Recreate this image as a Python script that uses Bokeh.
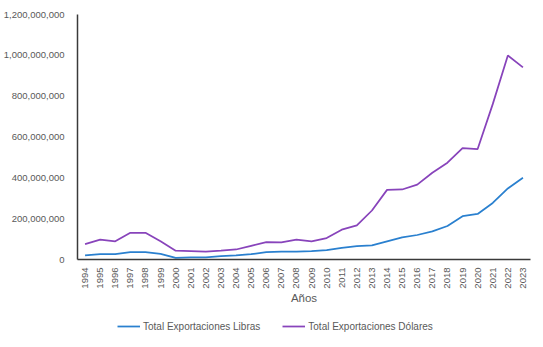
from bokeh.plotting import figure
from bokeh.layouts import column
from bokeh.models import (ColumnDataSource, Legend, LegendItem, NumeralTickFormatter,
                          FixedTicker, Range1d)
from bokeh.embed import file_html
from bokeh.resources import INLINE
import math

years = list(range(1994, 2024))
libras = [20e6, 26e6, 26e6, 36e6, 36e6, 28e6, 8e6, 11e6, 11e6, 16e6,
          20e6, 26e6, 36e6, 38e6, 39e6, 41e6, 46e6, 57e6, 65e6, 69e6,
          89e6, 108e6, 120e6, 138e6, 164e6, 212e6, 223e6, 277e6, 348e6, 400e6]
dolares = [75e6, 97e6, 89e6, 131e6, 131e6, 89e6, 43e6, 41e6, 38e6, 43e6,
           49e6, 67e6, 85e6, 84e6, 97e6, 89e6, 105e6, 146e6, 167e6, 240e6,
           341e6, 343e6, 367e6, 425e6, 474e6, 546e6, 541e6, 761e6, 999e6, 941e6]
y_ticks = [0, 200e6, 400e6, 600e6, 800e6, 1000e6, 1200e6]
series_names = ["Total Exportaciones Libras", "Total Exportaciones Dólares"]
colors = ["#2A80CF", "#8844BB"]

src = ColumnDataSource(dict(x=years, libras=libras, dolares=dolares))

FONT = "Liberation Sans"
GREY = "#595959"

p = figure(width=543, height=306, output_backend="svg", toolbar_location=None,
           x_range=Range1d(1993.5, 2023.5), y_range=Range1d(0, 1.2e9),
           min_border_left=73, min_border_right=13, min_border_top=14,
           min_border_bottom=47)
p.outline_line_color = None
p.xgrid.grid_line_color = None
p.ygrid.grid_line_color = None
p.background_fill_color = "white"
p.border_fill_color = "white"

r1 = p.line("x", "libras", source=src, line_color=colors[0], line_width=1.75)
r2 = p.line("x", "dolares", source=src, line_color=colors[1], line_width=1.75)

yax = p.yaxis[0]
yax.ticker = FixedTicker(ticks=y_ticks)
yax.formatter = NumeralTickFormatter(format="0,0")
yax.major_tick_line_color = None
yax.minor_tick_line_color = None
yax.axis_line_color = "#3a3a3a"
yax.axis_line_width = 1.5
yax.major_label_text_font = FONT
yax.major_label_text_font_size = "9.5px"
yax.major_label_text_color = GREY
yax.major_label_standoff = 7

xax = p.xaxis[0]
xax.ticker = FixedTicker(ticks=years)
xax.major_tick_line_color = None
xax.minor_tick_line_color = None
xax.axis_line_color = "#3a3a3a"
xax.axis_line_width = 1.5
xax.major_label_orientation = math.pi / 2
xax.major_label_text_font = FONT
xax.major_label_text_font_size = "9.5px"
xax.major_label_text_color = GREY
xax.major_label_standoff = 2
xax.axis_label = "Años"
xax.axis_label_text_font = FONT
xax.axis_label_text_font_size = "11.5px"
xax.axis_label_text_font_style = "normal"
xax.axis_label_text_color = GREY
xax.axis_label_standoff = 0

# legend strip below the chart
pl = figure(width=543, height=41, output_backend="svg", toolbar_location=None,
            x_range=Range1d(0, 1), y_range=Range1d(0, 1),
            min_border_left=0, min_border_right=0, min_border_top=0,
            min_border_bottom=0)
pl.axis.visible = False
pl.xgrid.grid_line_color = None
pl.ygrid.grid_line_color = None
pl.outline_line_color = None
l1 = pl.line(x=[5, 6], y=[5, 6], line_color=colors[0], line_width=1.75)
l2 = pl.line(x=[5, 6], y=[5, 6], line_color=colors[1], line_width=1.75)

legend = Legend(items=[LegendItem(label=series_names[0], renderers=[l1]),
                       LegendItem(label=series_names[1], renderers=[l2])],
                orientation="horizontal", location=(40, 11),
                label_text_font=FONT, label_text_font_size="10px",
                label_text_color=GREY, border_line_color=None,
                background_fill_alpha=0, glyph_width=23, label_standoff=3,
                spacing=22, padding=4, margin=0)
pl.add_layout(legend)

layout = column(p, pl, spacing=0)
open("out.html", "w").write(file_html(layout, INLINE))
